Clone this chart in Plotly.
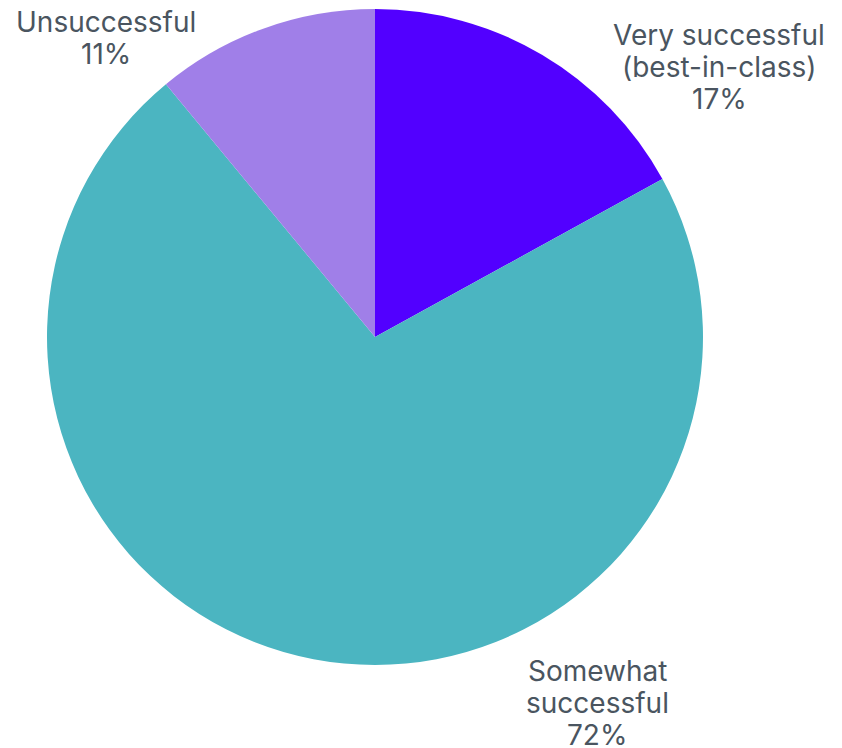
import plotly.graph_objects as go

categories = ["Very successful", "Somewhat successful", "Unsuccessful"]
label_lines = [["Very successful", "(best-in-class)"], ["Somewhat", "successful"], ["Unsuccessful"]]
values = [17, 72, 11]
colors = ["#5200FF", "#4BB5C1", "#A07FE8"]

# page offset (browser body margin) and figure size
OFF = 8
W, H = 834, 740
cx, cy, r = 375 - OFF, 337 - OFF, 328
label_x = [719, 597, 106]          # pixel centers of label blocks (page coords)
label_top = [35, 671, 22]          # first-line center y (page coords)
LINE = 32

fig = go.Figure(go.Pie(
    labels=categories, values=values, sort=False, direction="clockwise", rotation=0,
    marker=dict(colors=colors, line=dict(width=0)),
    textinfo="none", hoverinfo="label+percent", showlegend=False,
    domain=dict(x=[(cx - r) / W, (cx + r) / W], y=[1 - (cy + r) / H, 1 - (cy - r) / H]),
))

total = sum(values)
for lines, v, px, py in zip(label_lines, values, label_x, label_top):
    all_lines = lines + [f"{round(100 * v / total)}%"]
    for i, t in enumerate(all_lines):
        fig.add_annotation(
            x=(px - OFF) / W, y=1 - (py - OFF + i * LINE) / H, xref="paper", yref="paper",
            text=t, showarrow=False,
            font=dict(family="Inter", size=28, color="#4A5560"),
            align="center", xanchor="center", yanchor="middle",
        )

fig.update_layout(width=W, height=H, margin=dict(l=0, r=0, t=0, b=0),
                  paper_bgcolor="white", plot_bgcolor="white")
fig.write_html("out.html")
